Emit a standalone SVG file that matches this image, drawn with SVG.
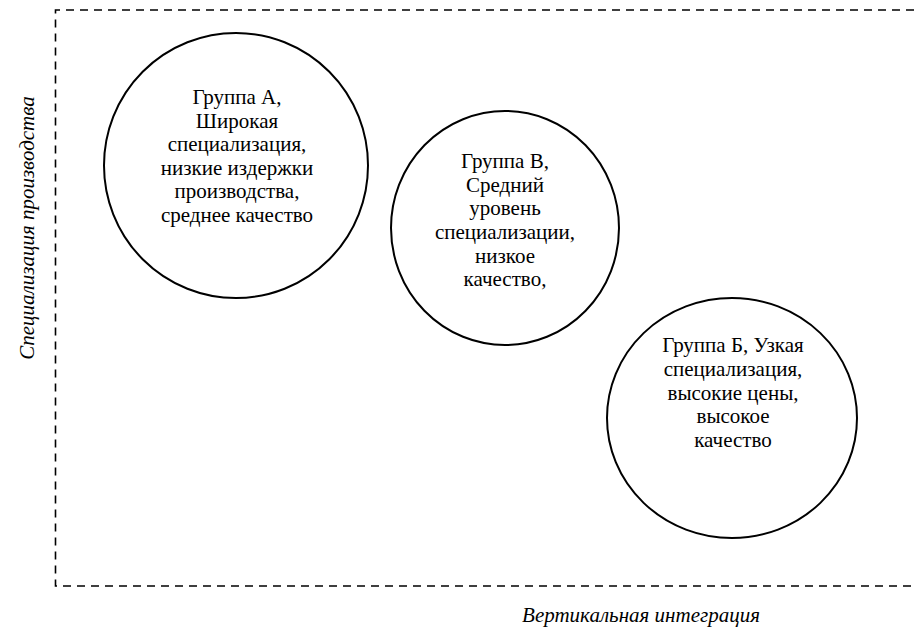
<svg xmlns="http://www.w3.org/2000/svg" width="914" height="629" viewBox="0 0 914 629">
<style>
.frame{fill:none;stroke:#000;stroke-width:1.6;stroke-dasharray:8 6}
.node{fill:#fff;stroke:#000;stroke-width:2}
.t{font-family:"Liberation Serif","DejaVu Serif",serif;font-size:21px;fill:#000;text-anchor:middle}
.ax{font-family:"Liberation Serif","DejaVu Serif",serif;font-size:21px;font-style:italic;fill:#000;text-anchor:middle}
</style>
<g id="connectors">
<path class="frame" d="M914 10 H55.5 V586 H914"/>
</g>
<g id="groupA">
<ellipse class="node" cx="236" cy="165.5" rx="132" ry="132.5"/>
<text class="t" x="237" y="104">Группа А,</text>
<text class="t" x="237" y="127.5">Широкая</text>
<text class="t" x="237" y="151">специализация,</text>
<text class="t" x="237" y="175">низкие издержки</text>
<text class="t" x="237" y="198">производства,</text>
<text class="t" x="237" y="222">среднее качество</text>
</g>
<g id="groupV">
<ellipse class="node" cx="505" cy="228" rx="114" ry="117"/>
<text class="t" x="505" y="168">Группа В,</text>
<text class="t" x="505" y="191.5">Средний</text>
<text class="t" x="505" y="215">уровень</text>
<text class="t" x="505" y="239">специализации,</text>
<text class="t" x="505" y="263">низкое</text>
<text class="t" x="505" y="286">качество,</text>
</g>
<g id="groupB">
<ellipse class="node" cx="732" cy="418" rx="125" ry="120"/>
<text class="t" x="733" y="352">Группа Б, Узкая</text>
<text class="t" x="733" y="376">специализация,</text>
<text class="t" x="733" y="400">высокие цены,</text>
<text class="t" x="733" y="423">высокое</text>
<text class="t" x="733" y="447">качество</text>
</g>
<g id="axis-y">
<text class="ax" transform="translate(34 228) rotate(-90)">Специализация производства</text>
</g>
<g id="axis-x">
<text class="ax" x="641" y="622">Вертикальная интеграция</text>
</g>
</svg>
